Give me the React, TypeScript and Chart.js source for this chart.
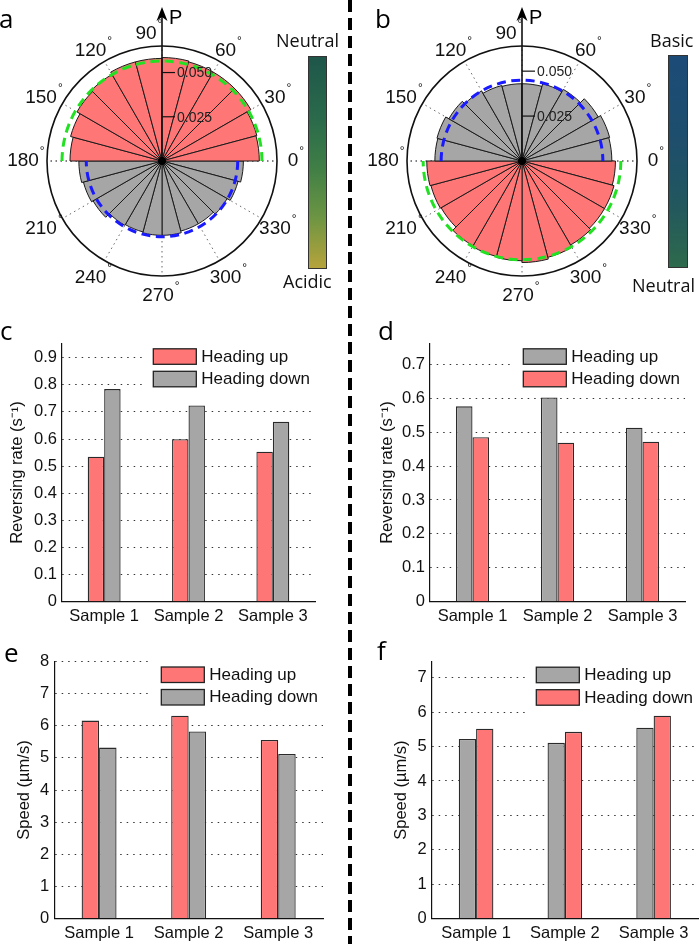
import React, { useEffect, useRef } from 'react';
import { Chart, registerables } from 'chart.js';

Chart.register(...registerables);

const FONT = "'Liberation Sans', Arial, Helvetica, sans-serif";
const SANS = "'Open Sans', 'Noto Sans', sans-serif";

const RED = '#ff7676';
const GRAY = '#a6a6a6';
const GREEN_FIT = '#22e022';
const BLUE_FIT = '#1a1aff';

// ---------- polar histograms (15° bins, counter-clockwise from 0°) ----------
const binStartDeg = [0, 15, 30, 45, 60, 75, 90, 105, 120, 135, 150, 165, 180, 195, 210, 225, 240, 255, 270, 285, 300, 315, 330, 345];
const angleTickDeg = [0, 30, 60, 90, 120, 150, 180, 210, 240, 270, 300, 330];
const polarTickValues = [0.025, 0.05];
const polarTickLabels = ['0.025', '0.050'];

// panel a: 0–180° heading up (red), 180–360° heading down (gray)
const aUpperP = [0.055, 0.0555, 0.058, 0.058, 0.058, 0.0585, 0.058, 0.058, 0.0565, 0.0555, 0.0535, 0.052];
const aLowerP = [0.047, 0.046, 0.045, 0.042, 0.0415, 0.042, 0.042, 0.041, 0.041, 0.0425, 0.0445, 0.046];
const aUpperFit = 0.0565;
const aLowerFit = 0.0428;
const aMaxP = 0.065;

// panel b: 0–180° heading up (gray), 180–360° heading down (red)
const bUpperP = [0.05, 0.0505, 0.049, 0.046, 0.0445, 0.043, 0.043, 0.0435, 0.045, 0.047, 0.049, 0.0485];
const bLowerP = [0.053, 0.0525, 0.052, 0.0545, 0.055, 0.0555, 0.0565, 0.0555, 0.054, 0.053, 0.053, 0.052];
const bUpperFit = 0.045;
const bLowerFit = 0.055;
const bMaxP = 0.064;

// ---------- bar charts ----------
const categories = ['Sample 1', 'Sample 2', 'Sample 3'];
const legendUp = 'Heading up';
const legendDown = 'Heading down';

const cHeadingUp = [0.535, 0.599, 0.553];
const cHeadingDown = [0.784, 0.724, 0.664];
const cTicks = [0, 0.1, 0.2, 0.3, 0.4, 0.5, 0.6, 0.7, 0.8, 0.9];
const cTickLabels = ['0', '0.1', '0.2', '0.3', '0.4', '0.5', '0.6', '0.7', '0.8', '0.9'];
const cMax = 0.953;

const dHeadingUp = [0.576, 0.602, 0.513];
const dHeadingDown = [0.485, 0.469, 0.472];
const dTicks = [0, 0.1, 0.2, 0.3, 0.4, 0.5, 0.6, 0.7];
const dTickLabels = ['0', '0.1', '0.2', '0.3', '0.4', '0.5', '0.6', '0.7'];
const dMax = 0.762;

const eHeadingUp = [6.16, 6.31, 5.56];
const eHeadingDown = [5.32, 5.82, 5.12];
const eTicks = [0, 1, 2, 3, 4, 5, 6, 7, 8];
const eTickLabels = ['0', '1', '2', '3', '4', '5', '6', '7', '8'];
const eMax = 8;

const fHeadingUp = [5.22, 5.11, 5.55];
const fHeadingDown = [5.52, 5.43, 5.9];
const fTicks = [0, 1, 2, 3, 4, 5, 6, 7];
const fTickLabels = ['0', '1', '2', '3', '4', '5', '6', '7'];
const fMax = 7.47;

const rateTitle = 'Reversing rate (s\u207B\u00B9)';
const speedTitle = 'Speed (\u00B5m/s)';

// ---------- plugins ----------
const polarDecor = {
  id: 'polarDecor',
  afterDatasetsDraw(chart: any, _args: any, o: any) {
    const s = chart.scales.r;
    const ctx = chart.ctx as CanvasRenderingContext2D;
    const cx = s.xCenter, cy = s.yCenter, R = s.drawingArea;
    const rad = (v: number) => s.getDistanceFromCenterForValue(v);
    ctx.save();
    // fitted distributions
    ctx.lineWidth = 3;
    ctx.setLineDash([9, 5.5]);
    ctx.strokeStyle = o.upperFitColor;
    ctx.beginPath();
    ctx.arc(cx, cy, rad(o.upperFit), Math.PI, 2 * Math.PI);
    ctx.stroke();
    ctx.strokeStyle = o.lowerFitColor;
    ctx.beginPath();
    ctx.arc(cx, cy, rad(o.lowerFit), 0, Math.PI);
    ctx.stroke();
    ctx.setLineDash([]);
    // outer circle
    ctx.lineWidth = 1.6;
    ctx.strokeStyle = '#111';
    ctx.beginPath();
    ctx.arc(cx, cy, R, 0, 2 * Math.PI);
    ctx.stroke();
    // P axis with arrow
    const tip = cy - R - 39;
    ctx.beginPath();
    ctx.moveTo(cx, cy);
    ctx.lineTo(cx, tip + 8);
    ctx.stroke();
    ctx.fillStyle = '#000';
    ctx.beginPath();
    ctx.moveTo(cx, tip);
    ctx.lineTo(cx + 5.5, tip + 14);
    ctx.lineTo(cx, tip + 10);
    ctx.lineTo(cx - 5.5, tip + 14);
    ctx.closePath();
    ctx.fill();
    ctx.font = "20px 'Liberation Sans', Arial, sans-serif";
    ctx.textBaseline = 'middle';
    ctx.textAlign = 'left';
    ctx.fillText('P', cx + 7, tip + 11);
    // radial ticks
    ctx.font = "14px 'Liberation Sans', Arial, sans-serif";
    ctx.fillStyle = '#222';
    ctx.lineWidth = 1.2;
    o.ticks.forEach((v: number, i: number) => {
      const y = cy - rad(v);
      ctx.beginPath();
      ctx.moveTo(cx, y);
      ctx.lineTo(cx + 13, y);
      ctx.stroke();
      ctx.fillText(o.tickLabels[i], cx + 15, y + 1);
    });
    // center dot
    ctx.fillStyle = '#000';
    ctx.beginPath();
    ctx.arc(cx, cy, 4, 0, 2 * Math.PI);
    ctx.fill();
    // angle labels
    const L = R + 20;
    o.angles.forEach((deg: number) => {
      const t = (deg * Math.PI) / 180;
      const sn = Math.sin(t), cs = Math.cos(t);
      let x = cx + L * cs - 4;
      const y = cy - L * sn + (sn > 0 ? 8 * sn : 0);
      if (deg === 90) x -= 12;
      ctx.font = "19px 'Liberation Sans', Arial, sans-serif";
      ctx.textAlign = 'center';
      ctx.textBaseline = 'middle';
      ctx.fillStyle = '#111';
      const txt = String(deg);
      const w = ctx.measureText(txt).width;
      ctx.fillText(txt, x, y);
      ctx.font = "12px 'Liberation Sans', Arial, sans-serif";
      ctx.textAlign = 'left';
      ctx.fillText('\u00B0', x + w / 2 + 1, y - 9);
    });
    ctx.restore();
  },
};

const insideLegend = {
  id: 'insideLegend',
  afterDraw(chart: any) {
    const ctx = chart.ctx as CanvasRenderingContext2D;
    const area = chart.chartArea;
    const ds = chart.data.datasets;
    ctx.save();
    ctx.font = "17px 'Liberation Sans', Arial, sans-serif";
    const textW = Math.max(...ds.map((d: any) => ctx.measureText(d.label).width));
    const boxW = 43, boxH = 15.5, gap = 5, rowH = 22.5;
    const w = boxW + gap + textW;
    const x0 = area.right - 5 - w;
    const y0 = area.top + 5.5;
    ctx.fillStyle = '#fff';
    ctx.fillRect(x0 - 10, area.top - 2, area.right + 2 - (x0 - 10), ds.length * rowH + 10);
    ds.forEach((d: any, i: number) => {
      const y = y0 + i * rowH;
      ctx.fillStyle = d.backgroundColor;
      ctx.fillRect(x0, y, boxW, boxH);
      ctx.strokeStyle = '#222';
      ctx.lineWidth = 1.3;
      ctx.strokeRect(x0, y, boxW, boxH);
      ctx.fillStyle = '#111';
      ctx.textBaseline = 'middle';
      ctx.textAlign = 'left';
      ctx.fillText(d.label, x0 + boxW + gap, y + boxH / 2 + 0.5);
    });
    ctx.restore();
  },
};

// ---------- components ----------
type PolarProps = {
  left: number; top: number; width: number; height: number;
  pad: { left: number; top: number; right: number; bottom: number };
  upper: number[]; lower: number[];
  upperColor: string; lowerColor: string;
  upperFit: number; lowerFit: number;
  upperFitColor: string; lowerFitColor: string;
  maxP: number;
};

function PolarPanel(p: PolarProps) {
  const ref = useRef<HTMLCanvasElement>(null);
  useEffect(() => {
    const values = [...p.upper, ...p.lower];
    const n = values.length;
    const order = values.map((_, i) => n - 1 - i);
    const chart = new Chart(ref.current as HTMLCanvasElement, {
      type: 'polarArea',
      data: {
        labels: order.map((k) => `${binStartDeg[k]}\u2013${binStartDeg[k] + 15}\u00B0`),
        datasets: [
          {
            data: order.map((k) => values[k]),
            backgroundColor: order.map((k) => (k < p.upper.length ? p.upperColor : p.lowerColor)),
            borderColor: '#1a1a1a',
            borderWidth: 1,
          },
        ],
      },
      options: {
        responsive: false,
        animation: false,
        layout: { padding: p.pad },
        plugins: {
          legend: { display: false },
          tooltip: { enabled: false },
          polarDecor: {
            upperFit: p.upperFit,
            lowerFit: p.lowerFit,
            upperFitColor: p.upperFitColor,
            lowerFitColor: p.lowerFitColor,
            ticks: polarTickValues,
            tickLabels: polarTickLabels,
            angles: angleTickDeg,
          },
        } as any,
        scales: {
          r: {
            min: 0,
            max: p.maxP,
            startAngle: 90,
            ticks: { display: false },
            grid: { display: false },
            pointLabels: { display: false },
            angleLines: {
              display: true,
              color: (c: any) => (c.index % 12 === 0 ? '#000' : '#666'),
              lineWidth: (c: any) => (c.index % 2 === 0 ? 1 : 0),
              borderDash: [1.5, 3.5],
            },
          } as any,
        },
      },
      plugins: [polarDecor as any],
    });
    return () => chart.destroy();
  }, []);
  return (
    <canvas
      ref={ref}
      width={p.width}
      height={p.height}
      style={{ position: 'absolute', left: p.left, top: p.top, width: p.width, height: p.height, display: 'block' }}
    />
  );
}

type Series = { label: string; data: number[]; color: string };
type BarProps = {
  left: number; top: number; width: number; height: number;
  padTop: number; padRight: number; yAxisW: number; xAxisH: number;
  titleCenter: number; yTitle: string;
  yMax: number; yTicks: number[]; yTickLabels: string[];
  series: Series[];
};

function BarPanel(p: BarProps) {
  const ref = useRef<HTMLCanvasElement>(null);
  useEffect(() => {
    const chart = new Chart(ref.current as HTMLCanvasElement, {
      type: 'bar',
      data: {
        labels: categories,
        datasets: p.series.map((s) => ({
          label: s.label,
          data: s.data,
          backgroundColor: s.color,
          borderColor: '#2a2a2a',
          borderWidth: 1.3,
          categoryPercentage: 0.39,
          barPercentage: 1,
        })),
      },
      options: {
        responsive: false,
        animation: false,
        layout: { padding: { top: p.padTop, right: p.padRight, left: 0, bottom: 0 } },
        plugins: { legend: { display: false }, tooltip: { enabled: false } },
        scales: {
          x: {
            grid: { display: false, drawTicks: false },
            border: { display: true, color: '#111', width: 1.2 },
            ticks: {
              font: { size: 16.5, family: FONT },
              color: '#111',
              padding: 5,
              maxRotation: 0,
              minRotation: 0,
              autoSkip: false,
            },
            afterFit: (s: any) => {
              s.height = p.xAxisH;
            },
          },
          y: {
            min: 0,
            max: p.yMax,
            afterBuildTicks: (ax: any) => {
              ax.ticks = p.yTicks.map((v) => ({ value: v }));
            },
            ticks: {
              callback: (_v: any, i: number) => p.yTickLabels[i],
              font: { size: 16.5, family: FONT },
              color: '#111',
              padding: 5,
            },
            grid: {
              color: (c: any) => (c.tick && c.tick.value === 0 ? 'rgba(0,0,0,0)' : '#333'),
              lineWidth: 1,
              drawTicks: false,
            },
            border: { display: true, color: '#111', width: 1.2, dash: [1.5, 5] },
            title: {
              display: true,
              text: p.yTitle,
              color: '#111',
              font: { size: 16.5, family: FONT },
              padding: { top: p.titleCenter - 9.9, bottom: 0 },
            },
            afterFit: (s: any) => {
              s.width = p.yAxisW;
            },
          },
        } as any,
      },
      plugins: [insideLegend as any],
    });
    return () => chart.destroy();
  }, []);
  return (
    <canvas
      ref={ref}
      width={p.width}
      height={p.height}
      style={{ position: 'absolute', left: p.left, top: p.top, width: p.width, height: p.height, display: 'block' }}
    />
  );
}

const letterStyle = (left: number, top: number): React.CSSProperties => ({
  position: 'absolute',
  left,
  top,
  font: `26px ${SANS}`,
  lineHeight: '26px',
  color: '#000',
});

const cbLabel = (left: number, top: number): React.CSSProperties => ({
  position: 'absolute',
  left,
  top,
  font: `18px ${SANS}`,
  lineHeight: '18px',
  color: '#111',
  whiteSpace: 'nowrap',
});

export default function App() {
  useEffect(() => {
    document.body.style.margin = '0';
  }, []);
  return (
    <div
      style={{
        position: 'absolute',
        left: 0,
        top: 0,
        width: 700,
        height: 944,
        background: '#fff',
        overflow: 'hidden',
      }}
    >
      <PolarPanel
        left={0}
        top={0}
        width={310}
        height={305}
        pad={{ left: 47, top: 46, right: 33, bottom: 29 }}
        upper={aUpperP}
        lower={aLowerP}
        upperColor={RED}
        lowerColor={GRAY}
        upperFit={aUpperFit}
        lowerFit={aLowerFit}
        upperFitColor={GREEN_FIT}
        lowerFitColor={BLUE_FIT}
        maxP={aMaxP}
      />
      <PolarPanel
        left={355}
        top={0}
        width={320}
        height={305}
        pad={{ left: 52, top: 46, right: 38, bottom: 29 }}
        upper={bUpperP}
        lower={bLowerP}
        upperColor={GRAY}
        lowerColor={RED}
        upperFit={bUpperFit}
        lowerFit={bLowerFit}
        upperFitColor={BLUE_FIT}
        lowerFitColor={GREEN_FIT}
        maxP={bMaxP}
      />

      <BarPanel
        left={0}
        top={315}
        width={335}
        height={320}
        padTop={28.3}
        padRight={20}
        yAxisW={62}
        xAxisH={33.3}
        titleCenter={17.5}
        yTitle={rateTitle}
        yMax={cMax}
        yTicks={cTicks}
        yTickLabels={cTickLabels}
        series={[
          { label: legendUp, data: cHeadingUp, color: RED },
          { label: legendDown, data: cHeadingDown, color: GRAY },
        ]}
      />
      <BarPanel
        left={350}
        top={315}
        width={350}
        height={320}
        padTop={28.3}
        padRight={15}
        yAxisW={80}
        xAxisH={33.3}
        titleCenter={37.5}
        yTitle={rateTitle}
        yMax={dMax}
        yTicks={dTicks}
        yTickLabels={dTickLabels}
        series={[
          { label: legendUp, data: dHeadingUp, color: GRAY },
          { label: legendDown, data: dHeadingDown, color: RED },
        ]}
      />
      <BarPanel
        left={0}
        top={635}
        width={335}
        height={309}
        padTop={26.5}
        padRight={12}
        yAxisW={54.3}
        xAxisH={25.5}
        titleCenter={24}
        yTitle={speedTitle}
        yMax={eMax}
        yTicks={eTicks}
        yTickLabels={eTickLabels}
        series={[
          { label: legendUp, data: eHeadingUp, color: RED },
          { label: legendDown, data: eHeadingDown, color: GRAY },
        ]}
      />
      <BarPanel
        left={350}
        top={635}
        width={350}
        height={309}
        padTop={26.7}
        padRight={2}
        yAxisW={81.7}
        xAxisH={25.5}
        titleCenter={51.7}
        yTitle={speedTitle}
        yMax={fMax}
        yTicks={fTicks}
        yTickLabels={fTickLabels}
        series={[
          { label: legendUp, data: fHeadingUp, color: GRAY },
          { label: legendDown, data: fHeadingDown, color: RED },
        ]}
      />

      {/* colour bars */}
      <div
        style={{
          position: 'absolute',
          left: 308,
          top: 56,
          width: 17,
          height: 211,
          border: '1px solid #333',
          background: 'linear-gradient(to bottom, #1e564a 0%, #2b6b4b 30%, #3f7e46 52%, #6a9443 75%, #b6a33b 100%)',
        }}
      />
      <div style={cbLabel(276, 31)}>Neutral</div>
      <div style={cbLabel(283, 272)}>Acidic</div>

      <div
        style={{
          position: 'absolute',
          left: 668,
          top: 55,
          width: 18,
          height: 211,
          border: '1px solid #333',
          background: 'linear-gradient(to bottom, #1c4b78 0%, #1e4e6c 40%, #22575e 70%, #2e6a4c 100%)',
        }}
      />
      <div style={cbLabel(650, 31)}>Basic</div>
      <div style={cbLabel(632, 276)}>Neutral</div>

      {/* dashed separator */}
      <div
        style={{
          position: 'absolute',
          left: 348,
          top: 0,
          width: 4,
          height: 944,
          background: 'repeating-linear-gradient(to bottom, #000 0px, #000 12px, transparent 12px, transparent 18px)',
        }}
      />

      {/* panel letters */}
      <div style={letterStyle(-1, 5)}>a</div>
      <div style={letterStyle(375, 5)}>b</div>
      <div style={letterStyle(0, 317)}>c</div>
      <div style={letterStyle(378, 317)}>d</div>
      <div style={letterStyle(4, 639)}>e</div>
      <div style={letterStyle(377, 637)}>f</div>
    </div>
  );
}
